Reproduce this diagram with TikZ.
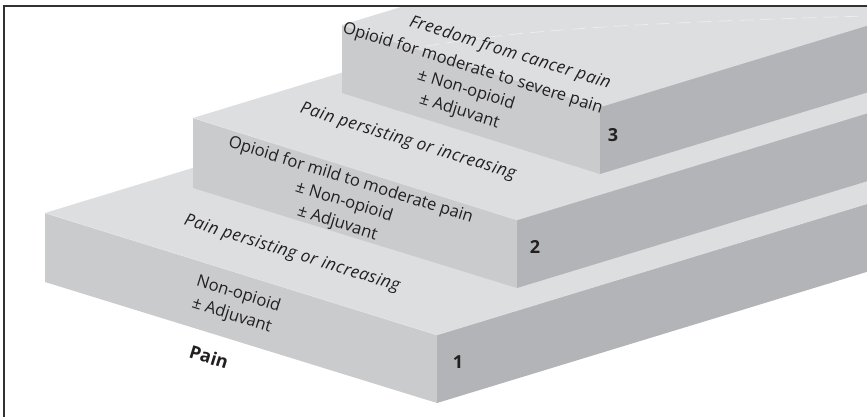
\documentclass[tikz,border=0pt]{standalone}
\usepackage{fontspec}
\setmainfont{Open Sans}
\usetikzlibrary{calc}
\definecolor{topc}{RGB}{221,222,224}
\definecolor{frontc}{RGB}{202,203,205}
\definecolor{rightc}{RGB}{178,180,183}
\definecolor{txtc}{RGB}{35,31,32}
\definecolor{framec}{RGB}{50,50,50}
\begin{document}
\begin{tikzpicture}[x=1pt,y=-1pt,
  topface/.style={fill=topc},
  frontface/.style={fill=frontc},
  rightface/.style={fill=rightc},
  lbl/.style={font=\fontsize{16.6}{22.5}\selectfont, text=txtc, align=center, rotate=-17.3, inner sep=0pt},
  ilbl/.style={lbl, font=\fontsize{17}{22}\selectfont\itshape\addfontfeatures{LetterSpace=3}},
  blbl/.style={lbl, font=\fontsize{18}{22}\selectfont\bfseries},
  num/.style={font=\fontsize{18}{22}\selectfont\bfseries, text=txtc, inner sep=0pt},
  framel/.style={draw=framec, line width=1.2pt}]
\useasboundingbox (0,0) rectangle (867,417);
% slab corners (A back-left top, B front corner top, C front corner bottom, D left bottom)
\coordinate (A1) at (45,213);  \coordinate (B1) at (437,335); \coordinate (C1) at (437,403); \coordinate (D1) at (45,282);
\coordinate (A2) at (193,118); \coordinate (B2) at (517,220); \coordinate (C2) at (517,288); \coordinate (D2) at (193,188);
\coordinate (A3) at (342,25);  \coordinate (B3) at (600,107); \coordinate (C3) at (600,174); \coordinate (D3) at (342,93);
\begin{scope}
\clip (4,6) rectangle (867,417);
\foreach \k in {1,2,3}{
  \fill[topface] (A\k) -- (B\k) -- ($(B\k)+(600,-183)$) -- ($(A\k)+(1200,-366)$) -- cycle;
  \fill[frontface] (A\k) -- (B\k) -- (C\k) -- (D\k) -- cycle;
  \fill[rightface] (B\k) -- (C\k) -- ($(C\k)+(600,-183)$) -- ($(B\k)+(600,-183)$) -- cycle;
  \draw[white, opacity=0.3, line width=0.7pt] (A\k) -- (B\k) -- ($(B\k)+(600,-183)$);
}
\draw[white, opacity=0.5, dash pattern=on 14pt off 7pt, line width=0.7pt] (405,50) .. controls (500,32) and (600,24) .. (867,16);
\end{scope}
% frame
\coordinate (f1) at (4,417); \coordinate (f2) at (4,6); \coordinate (f3) at (867,6);
\draw[framel] (f1) -- (f2) -- (f3);
% texts
\node[blbl] (pain) at (209,357) {Pain};
\node[lbl] (s1) at (235,305) {Non-opioid\\± Adjuvant};
\node[ilbl] (p1) at (292,254) {Pain persisting or increasing};
\node[lbl] (s2) at (344,202) {Opioid for mild to moderate pain\\± Non-opioid\\± Adjuvant};
\node[ilbl] (p2) at (408,142) {Pain persisting or increasing};
\node[lbl] (s3) at (466,90) {Opioid for moderate to severe pain\\± Non-opioid\\± Adjuvant};
\node[ilbl] (fr) at (510,53) {Freedom from cancer pain};
\node[num] (n1) at (458,362) {1};
\node[num] (n2) at (535,247) {2};
\node[num] (n3) at (613,135) {3};
\end{tikzpicture}
\end{document}
